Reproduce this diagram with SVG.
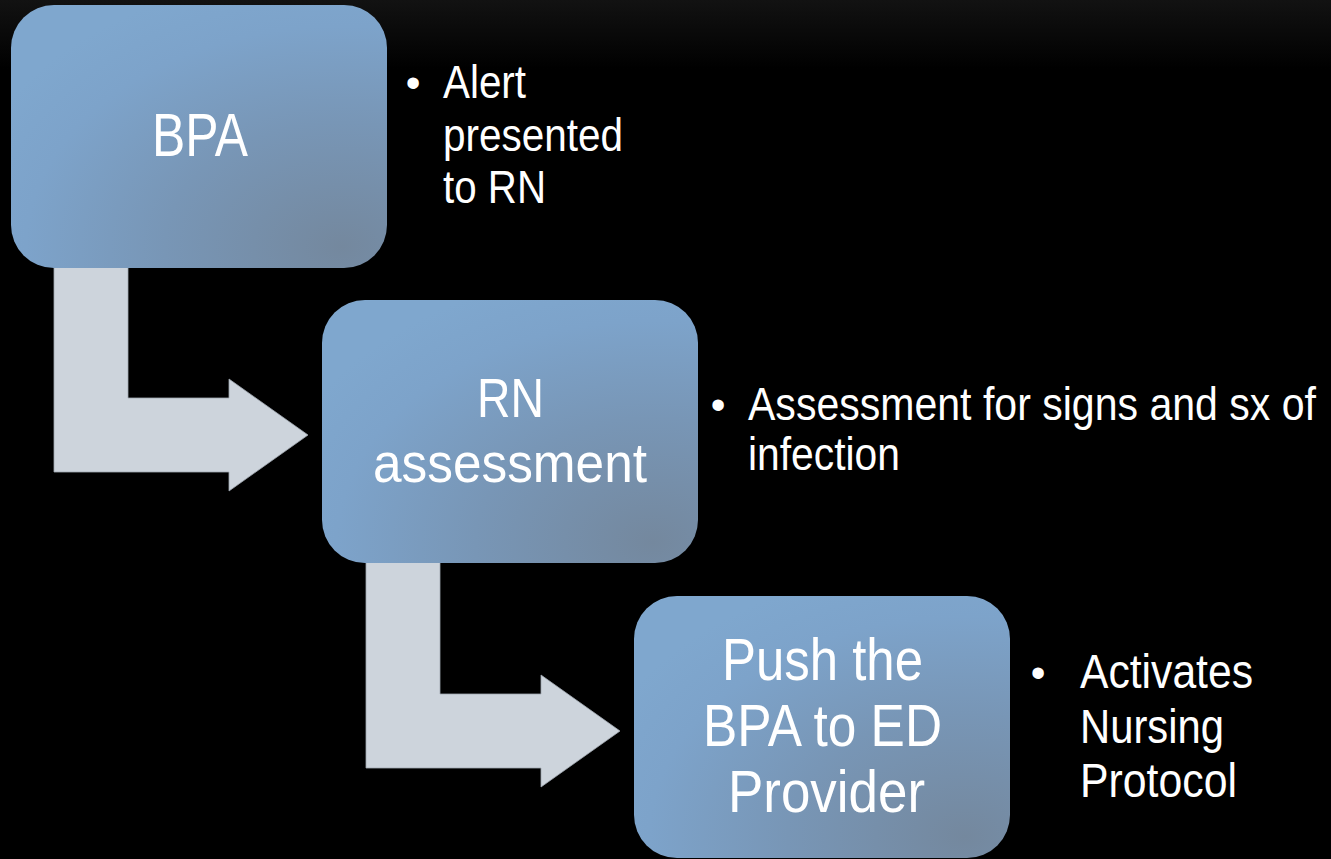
<svg xmlns="http://www.w3.org/2000/svg" width="1331" height="859" viewBox="0 0 1331 859">
<defs>
<linearGradient id="bg" x1="0" y1="0" x2="0" y2="1">
<stop offset="0" stop-color="#121212"/>
<stop offset="0.08" stop-color="#000000"/>
<stop offset="1" stop-color="#000000"/>
</linearGradient>
<radialGradient id="boxfill" cx="0.88" cy="0.92" r="1.05" fx="0.88" fy="0.92">
<stop offset="0" stop-color="#74889E"/>
<stop offset="0.45" stop-color="#7896B6"/>
<stop offset="0.8" stop-color="#7DA3CA"/>
<stop offset="1" stop-color="#7FA7CE"/>
</radialGradient>
<style>
.box{fill:url(#boxfill);}
.arrow{fill:#CDD4DC;stroke:#9FA7B0;stroke-width:0.8;}
.t{font-family:"Liberation Sans Narrow","Liberation Sans",Arial,sans-serif;fill:#FFFFFF;}
.c{text-anchor:middle;}
</style>
</defs>
<rect x="0" y="0" width="1331" height="859" fill="url(#bg)"/>
<g id="connectors">
<polygon class="arrow" points="54,262 128,262 128,398 229,398 229,379 308,435 229,491 229,472 54,472"/>
<polygon class="arrow" points="366,558 440,558 440,694 541,694 541,675 620,731 541,787 541,768 366,768"/>
</g>
<g id="node-bpa">
<rect class="box" x="11" y="5" width="376" height="263" rx="43" ry="43"/>
<text class="t" x="152" y="156" font-size="62" textLength="96" lengthAdjust="spacingAndGlyphs">BPA</text>
</g>
<g id="note-bpa">
<text class="t c" x="413" y="97" font-size="42">•</text>
<text class="t" x="443" y="98" font-size="46" textLength="83" lengthAdjust="spacingAndGlyphs">Alert</text>
<text class="t" x="443" y="151" font-size="46" textLength="180" lengthAdjust="spacingAndGlyphs">presented</text>
<text class="t" x="443" y="203" font-size="46" textLength="103" lengthAdjust="spacingAndGlyphs">to RN</text>
</g>
<g id="node-rn">
<rect class="box" x="322" y="300" width="376" height="263" rx="43" ry="43"/>
<text class="t" x="477" y="417" font-size="56" textLength="67" lengthAdjust="spacingAndGlyphs">RN</text>
<text class="t" x="373" y="482" font-size="56" textLength="274" lengthAdjust="spacingAndGlyphs">assessment</text>
</g>
<g id="note-rn">
<text class="t c" x="718" y="419" font-size="42">•</text>
<text class="t" x="748" y="420" font-size="47" textLength="568" lengthAdjust="spacingAndGlyphs">Assessment for signs and sx of</text>
<text class="t" x="748" y="470" font-size="47" textLength="152" lengthAdjust="spacingAndGlyphs">infection</text>
</g>
<g id="node-push">
<rect class="box" x="634" y="596" width="376" height="262" rx="43" ry="43"/>
<text class="t" x="722" y="680" font-size="60" textLength="201" lengthAdjust="spacingAndGlyphs">Push the</text>
<text class="t" x="703" y="746" font-size="60" textLength="239" lengthAdjust="spacingAndGlyphs">BPA to ED</text>
<text class="t" x="728" y="812" font-size="60" textLength="197" lengthAdjust="spacingAndGlyphs">Provider</text>
</g>
<g id="note-push">
<text class="t c" x="1038" y="687" font-size="42">•</text>
<text class="t" x="1080" y="688" font-size="48" textLength="173" lengthAdjust="spacingAndGlyphs">Activates</text>
<text class="t" x="1080" y="743" font-size="48" textLength="144" lengthAdjust="spacingAndGlyphs">Nursing</text>
<text class="t" x="1080" y="797" font-size="48" textLength="157" lengthAdjust="spacingAndGlyphs">Protocol</text>
</g>
</svg>
